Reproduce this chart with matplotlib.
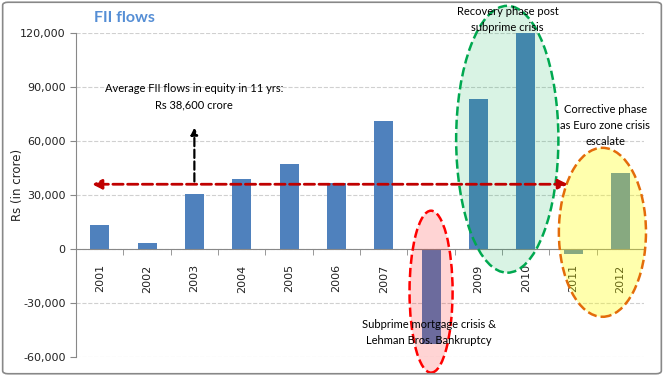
import matplotlib
matplotlib.use('Agg')
import matplotlib.pyplot as plt
from matplotlib.patches import Ellipse, FancyBboxPatch

# Data
years = ['2001', '2002', '2003', '2004', '2005', '2006',
         '2007', '2008', '2009', '2010', '2011', '2012']
fii_flows = [13100, 3600, 30500, 39000, 47200, 36600,
             71400, -53000, 83400, 120000, -2700, 42400]
yticks = [-60000, -30000, 0, 30000, 60000, 90000, 120000]
avg_level = 36000

fig = plt.figure(figsize=(6.64, 3.76), dpi=100)
ax = fig.add_axes([0.1145, 0.0505, 0.8555, 0.8615])

x = list(range(len(years)))
ax.bar(x, fii_flows, width=0.4, color='#4F81BD', zorder=2)

ax.set_xlim(-0.5, len(years) - 0.5)
ax.set_ylim(-60000, 120000)
ax.set_yticks(yticks)
ax.set_yticklabels([f'{v:,}' for v in yticks], fontsize=8, color='#222222')
ax.yaxis.grid(True, linestyle='--', color='#d0d0d0', linewidth=0.8, zorder=0)
ax.tick_params(axis='y', length=4, color='#888888', direction='out')

# x labels sit on the zero line, ticks at category boundaries
ax.spines['bottom'].set_position(('data', 0))
ax.set_xticks(x)
ax.set_xticklabels(years, rotation=90, fontsize=8, color='#222222')
ax.tick_params(axis='x', which='major', length=0, pad=11)
ax.set_xticks([i + 0.5 for i in x[:-1]], minor=True)
ax.tick_params(axis='x', which='minor', length=4, color='#888888', direction='out')
for s in ['top', 'right']:
    ax.spines[s].set_visible(False)
ax.spines['left'].set_color('#888888')
ax.spines['bottom'].set_color('#888888')

ax.set_ylabel('Rs (in crore)', fontsize=8.5, color='#222222')
ax.yaxis.set_label_coords(-0.092, 0.531)

# highlight ellipses (translucent, on top of bars)
ax.add_patch(Ellipse((7.0, -23700), 0.91, 90000, facecolor=(1, 0, 0, 0.17),
                     edgecolor='#FF0000', linestyle='--', linewidth=1.8, zorder=3, clip_on=False))
ax.add_patch(Ellipse((8.61, 61000), 2.16, 148300, facecolor=(0, 0.69, 0.31, 0.15),
                     edgecolor='#00A850', linestyle='--', linewidth=1.8, zorder=3, clip_on=False))
ax.add_patch(Ellipse((10.62, 9300), 1.84, 93900, facecolor=(1, 1, 0, 0.32),
                     edgecolor='#E36C0A', linestyle='--', linewidth=1.8, zorder=3, clip_on=False))

# average line
ax.annotate('', xy=(-0.22, avg_level), xytext=(9.95, avg_level),
            arrowprops=dict(arrowstyle='<|-|>', color='#C00000', lw=2,
                            linestyle='--', mutation_scale=14), zorder=4)
ax.annotate('', xy=(2.0, 69000), xytext=(2.0, avg_level),
            arrowprops=dict(arrowstyle='-|>', color='black', lw=1.6,
                            linestyle='--', mutation_scale=10), zorder=4)

tf = dict(fontsize=8, family='Lato', color='black', ha='center', va='center', zorder=5)
ax.text(2.0, 84500, 'Average FII flows in equity in 11 yrs:\nRs 38,600 crore',
        linespacing=1.55, **tf)
ax.text(8.62, 127500, 'Recovery phase post\nsubprime crisis', linespacing=1.6, clip_on=False, **tf)
ax.text(10.68, 68500, 'Corrective phase\nas Euro zone crisis\nescalate', linespacing=1.55, **tf)
ax.text(6.96, -46500, 'Subprime mortgage crisis &\nLehman Bros. Bankruptcy', linespacing=1.55, **tf)

fig.text(0.1875, 0.953, 'FII flows', fontsize=11.5, family='Lato', fontweight='bold',
         color='#558ED5', ha='center', va='center')

# outer chart border
fig.patches.append(FancyBboxPatch((0.004, 0.006), 0.992, 0.988, boxstyle='round,pad=0,rounding_size=0.008',
                                  transform=fig.transFigure, facecolor='none',
                                  edgecolor='#888888', linewidth=1.2))

fig.savefig('out.png', dpi=100)
